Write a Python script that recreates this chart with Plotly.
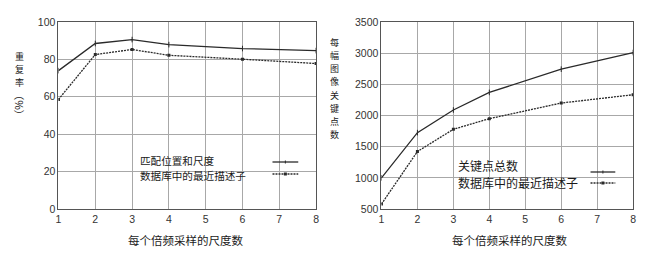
import plotly.graph_objects as go

# ---- data ----
scales = [1, 2, 3, 4, 6, 8]
repeat_match = [74, 88.5, 90.6, 87.9, 85.8, 84.7]
repeat_nn = [58.6, 82.6, 85.3, 82.2, 80.1, 77.8]
kp_total = [1000, 1725, 2088, 2370, 2743, 3010]
kp_nn = [580, 1422, 1779, 1949, 2200, 2333]

left_names = ["匹配位置和尺度", "数据库中的最近描述子"]
right_names = ["关键点总数", "数据库中的最近描述子"]
x_title = "每个倍频采样的尺度数"
left_ytitle = "重复率"
left_ytitle2 = "（%）"
right_ytitle = "每幅图像关键点数"

W, H = 650, 256
T, B = 22, 209
CJK = "Noto Sans CJK SC"
LINE = "#2a2a2a"
GRID = "#a8a8a8"
BORDER = "#555555"


def px(x):
    return x / W


def py(y):
    return (B - y) / (B - T)


fig = go.Figure()

solid = dict(color=LINE, width=1.3)
dashed = dict(color=LINE, width=1.3, dash="2px,1px")
m_solid = dict(symbol="line-ns", size=4, line=dict(color=LINE, width=1), color=LINE)
m_dash = dict(symbol="square", size=3, color=LINE, line=dict(width=0))

fig.add_trace(go.Scatter(x=scales, y=repeat_match, mode="lines+markers", line=solid,
                         marker=m_solid, name=left_names[0], xaxis="x", yaxis="y"))
fig.add_trace(go.Scatter(x=scales, y=repeat_nn, mode="lines+markers", line=dashed,
                         marker=m_dash, name=left_names[1], xaxis="x", yaxis="y"))
fig.add_trace(go.Scatter(x=scales, y=kp_total, mode="lines+markers", line=solid,
                         marker=m_solid, name=right_names[0], xaxis="x2", yaxis="y2"))
fig.add_trace(go.Scatter(x=scales, y=kp_nn, mode="lines+markers", line=dashed,
                         marker=m_dash, name=right_names[1], xaxis="x2", yaxis="y2"))

axis_common = dict(showgrid=True, gridcolor=GRID, gridwidth=1, showline=True,
                   linecolor=BORDER, linewidth=1, mirror=True, ticks="",
                   zeroline=False, tickfont=dict(family="Liberation Sans, Arial", size=10.5, color="#333"))

fig.update_layout(
    width=W, height=H,
    margin=dict(l=0, r=0, t=T, b=H - B),
    plot_bgcolor="white", paper_bgcolor="white",
    showlegend=False,
    xaxis=dict(domain=[px(56), px(316)], range=[1, 8], dtick=1, anchor="y", **axis_common),
    yaxis=dict(range=[0, 100], dtick=20, anchor="x", **axis_common),
    xaxis2=dict(domain=[px(382), px(636)], range=[1, 8], dtick=1, anchor="y2", **axis_common),
    yaxis2=dict(range=[500, 3500], dtick=500, anchor="x2", **axis_common),
)

shapes = []
ann = []

# legend boxes (white, covering grid)
shapes.append(dict(type="rect", xref="paper", yref="paper", x0=px(123), x1=px(302),
                   y0=py(185), y1=py(150), fillcolor="white", line=dict(width=0), layer="between"))
shapes.append(dict(type="rect", xref="paper", yref="paper", x0=px(445), x1=px(622),
                   y0=py(193), y1=py(150), fillcolor="white", line=dict(width=0), layer="between"))

# legend samples
def sample(x0, x1, y, dash, sym):
    shapes.append(dict(type="line", xref="paper", yref="paper", x0=px(x0), x1=px(x1),
                       y0=py(y), y1=py(y), line=dict(color=LINE, width=1.3, dash=dash)))
    cx = (x0 + x1) / 2
    if sym == "tick":
        shapes.append(dict(type="line", xref="paper", yref="paper", x0=px(cx), x1=px(cx),
                           y0=py(y - 1.5), y1=py(y + 1.5), line=dict(color=LINE, width=1)))
    else:
        shapes.append(dict(type="rect", xref="paper", yref="paper", x0=px(cx - 1.5), x1=px(cx + 1.5),
                           y0=py(y + 1.5), y1=py(y - 1.5), fillcolor=LINE, line=dict(width=0)))

sample(272, 298, 162, "solid", "tick")
sample(272, 298, 174, "2px,1px", "sq")
sample(593, 618, 172, "solid", "tick")
sample(593, 618, 183, "2px,1px", "sq")

def text(x, y, s, size=11.5, xanchor="left", angle=0):
    ann.append(dict(xref="paper", yref="paper", x=px(x), y=py(y), text=s, showarrow=False,
                    xanchor=xanchor, yanchor="middle", textangle=angle, borderpad=0,
                    font=dict(family=CJK, size=size, color="#1a1a1a")))

text(137, 160.2, left_names[0], size=10.6)
text(137, 175.8, left_names[1], size=10.6)
text(458, 165, right_names[0], size=12)
text(458, 182, right_names[1], size=12)

text(184, 240, x_title, size=11.5, xanchor="center")
text(511, 240, x_title, size=11.5, xanchor="center")

PITCH = 13.2
for i, ch in enumerate(left_ytitle):
    text(17, 56.5 + PITCH * i, ch, size=9, xanchor="center")
text(17, 105.5, left_ytitle2, size=10.5, xanchor="center", angle=90)
for i, ch in enumerate(right_ytitle):
    text(335, 88.4 + PITCH * (i - 3.5), ch, size=9, xanchor="center")

fig.update_layout(shapes=shapes, annotations=ann)
fig.write_html("out.html")
